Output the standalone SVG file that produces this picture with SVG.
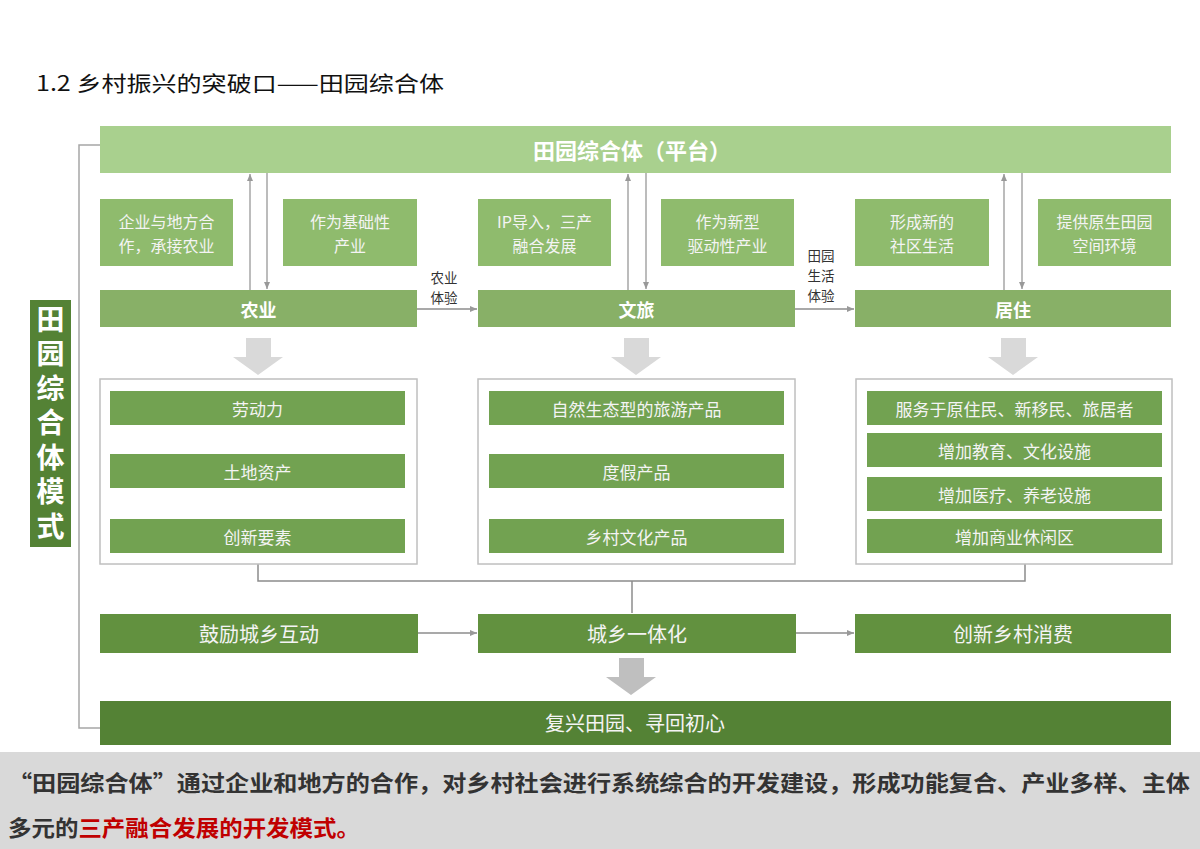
<svg xmlns="http://www.w3.org/2000/svg" width="1200" height="849" viewBox="0 0 1200 849">
<defs>
<style>
text{font-family:"Noto Sans CJK SC","Liberation Sans",sans-serif;dominant-baseline:central;text-anchor:middle}
.plat{fill:#a9d08e}
.small{fill:#8fbb6d}
.bar{fill:#88b067}
.inner{fill:#72a251}
.row{fill:#62913f}
.dark{fill:#548235}
.cont{fill:#fff;stroke:#bfbfbf;stroke-width:1.5}
.st{fill:#f4f4f4;font-size:16px}
.bt{fill:#fff;font-size:18px;font-weight:bold}
.it{fill:#f4f4f4;font-size:17px}
.rt{fill:#f4f4f4;font-size:20px}
.lbl{fill:#333;font-size:13.5px}
.ln{stroke:#a6a6a6;stroke-width:1.5;fill:none}
.ln2{stroke:#8c8c8c;stroke-width:1.5;fill:none}
.blk{fill:#d9d9d9}
.blk2{fill:#bfbfbf}
</style>
<marker id="ah" markerWidth="8" markerHeight="8" refX="7" refY="4" orient="auto" markerUnits="userSpaceOnUse">
<path d="M0,1 L7,4 L0,7 Z" fill="#999"/>
</marker>
</defs>
<rect width="1200" height="849" fill="#fff"/>

<text x="36" y="82" style="text-anchor:start;font-size:21px;fill:#111" textLength="408" lengthAdjust="spacingAndGlyphs">1.2 乡村振兴的突破口——田园综合体</text>

<g id="connectors">
<path class="ln" d="M100,145 H79 V728 H100"/>
<line class="ln" x1="250" y1="290" x2="250" y2="174" marker-end="url(#ah)"/>
<line class="ln" x1="267" y1="173" x2="267" y2="289" marker-end="url(#ah)"/>
<line class="ln" x1="628" y1="290" x2="628" y2="174" marker-end="url(#ah)"/>
<line class="ln" x1="646" y1="173" x2="646" y2="289" marker-end="url(#ah)"/>
<line class="ln" x1="1004" y1="290" x2="1004" y2="174" marker-end="url(#ah)"/>
<line class="ln" x1="1022" y1="173" x2="1022" y2="289" marker-end="url(#ah)"/>
<line class="ln2" x1="417" y1="309" x2="477" y2="309" marker-end="url(#ah)"/>
<line class="ln2" x1="795" y1="309" x2="854" y2="309" marker-end="url(#ah)"/>
<path class="ln2" d="M258,564 V581 H1025 V564"/>
<line class="ln2" x1="632" y1="581" x2="632" y2="613"/>
<line class="ln2" x1="418" y1="633" x2="477" y2="633" marker-end="url(#ah)"/>
<line class="ln2" x1="796" y1="633" x2="854" y2="633" marker-end="url(#ah)"/>
<text class="lbl" x="444" y="277">农业<tspan x="444" dy="20">体验</tspan></text>
<text class="lbl" x="821" y="255">田园<tspan x="821" dy="20">生活</tspan><tspan x="821" dy="20">体验</tspan></text>
<path class="blk" d="M246,338 H271 V357 H283 L258,375 L233,357 H246 Z"/>
<path class="blk" d="M624,338 H649 V357 H661 L636,375 L611,357 H624 Z"/>
<path class="blk" d="M1001,338 H1026 V357 H1038 L1013,375 L988,357 H1001 Z"/>
<path class="blk2" d="M619,658 H644 V677 H656 L631,695 L606,677 H619 Z"/>
</g>

<g id="label-mode">
<rect class="dark" x="30" y="300" width="41" height="247"/>
<text x="50.5" y="305" writing-mode="tb" style="text-anchor:start;font-size:28px;font-weight:bold;letter-spacing:6.5px;fill:#fff">田园综合体模式</text>
</g>

<g id="platform">
<rect class="plat" x="100" y="126" width="1071" height="47"/>
<text x="632" y="149" style="fill:#fff;font-size:22px;font-weight:bold">田园综合体（平台）</text>
</g>

<g id="box1"><rect class="small" x="100" y="199" width="133" height="67"/><text class="st" x="166.5" y="221">企业与地方合<tspan x="166.5" dy="23.5">作，承接农业</tspan></text></g>
<g id="box2"><rect class="small" x="283" y="199" width="134" height="67"/><text class="st" x="350" y="221">作为基础性<tspan x="350" dy="23.5">产业</tspan></text></g>
<g id="box3"><rect class="small" x="478" y="199" width="133" height="67"/><text class="st" x="544.5" y="221">IP导入，三产<tspan x="544.5" dy="23.5">融合发展</tspan></text></g>
<g id="box4"><rect class="small" x="661" y="199" width="133" height="67"/><text class="st" x="727.5" y="221">作为新型<tspan x="727.5" dy="23.5">驱动性产业</tspan></text></g>
<g id="box5"><rect class="small" x="855" y="199" width="134" height="67"/><text class="st" x="922" y="221">形成新的<tspan x="922" dy="23.5">社区生活</tspan></text></g>
<g id="box6"><rect class="small" x="1038" y="199" width="133" height="67"/><text class="st" x="1104.5" y="221">提供原生田园<tspan x="1104.5" dy="23.5">空间环境</tspan></text></g>

<g id="agri"><rect class="bar" x="100" y="290" width="317" height="37"/><text class="bt" x="258.5" y="309">农业</text></g>
<g id="tour"><rect class="bar" x="478" y="290" width="317" height="37"/><text class="bt" x="636.5" y="309">文旅</text></g>
<g id="live"><rect class="bar" x="855" y="290" width="316" height="37"/><text class="bt" x="1013" y="309">居住</text></g>

<g id="agri-items">
<rect class="cont" x="100" y="379" width="317" height="185"/>
<rect class="inner" x="110" y="391" width="295" height="34"/><text class="it" x="257.5" y="408">劳动力</text>
<rect class="inner" x="110" y="454" width="295" height="34"/><text class="it" x="257.5" y="471">土地资产</text>
<rect class="inner" x="110" y="519" width="295" height="34"/><text class="it" x="257.5" y="536">创新要素</text>
</g>
<g id="tour-items">
<rect class="cont" x="478" y="379" width="317" height="185"/>
<rect class="inner" x="489" y="391" width="295" height="34"/><text class="it" x="636.5" y="408">自然生态型的旅游产品</text>
<rect class="inner" x="489" y="454" width="295" height="34"/><text class="it" x="636.5" y="471">度假产品</text>
<rect class="inner" x="489" y="519" width="295" height="34"/><text class="it" x="636.5" y="536">乡村文化产品</text>
</g>
<g id="live-items">
<rect class="cont" x="856" y="379" width="316" height="185"/>
<rect class="inner" x="867" y="391" width="295" height="34"/><text class="it" x="1014.5" y="408">服务于原住民、新移民、旅居者</text>
<rect class="inner" x="867" y="433" width="295" height="34"/><text class="it" x="1014.5" y="450">增加教育、文化设施</text>
<rect class="inner" x="867" y="477" width="295" height="34"/><text class="it" x="1014.5" y="494">增加医疗、养老设施</text>
<rect class="inner" x="867" y="519" width="295" height="34"/><text class="it" x="1014.5" y="536">增加商业休闲区</text>
</g>

<g id="encourage"><rect class="row" x="100" y="614" width="318" height="39"/><text class="rt" x="259" y="633">鼓励城乡互动</text></g>
<g id="integrate"><rect class="row" x="478" y="614" width="318" height="39"/><text class="rt" x="637" y="633">城乡一体化</text></g>
<g id="consume"><rect class="row" x="855" y="614" width="316" height="39"/><text class="rt" x="1013" y="633">创新乡村消费</text></g>

<g id="revive"><rect class="dark" x="100" y="701" width="1071" height="44"/><text class="rt" x="635" y="722">复兴田园、寻回初心</text></g>

<g id="note">
<rect x="0" y="752" width="1200" height="97" fill="#d9d9d9"/>
<text x="8" y="781" style="text-anchor:start;font-size:22px;font-weight:bold;fill:#333" textLength="1182" lengthAdjust="spacingAndGlyphs">“田园综合体”通过企业和地方的合作，对乡村社会进行系统综合的开发建设，形成功能复合、产业多样、主体</text>
<text x="8" y="826" style="text-anchor:start;font-size:22px;font-weight:bold;fill:#333" textLength="352" lengthAdjust="spacingAndGlyphs">多元的<tspan fill="#c00000">三产融合发展的开发模式。</tspan></text>
</g>
</svg>
